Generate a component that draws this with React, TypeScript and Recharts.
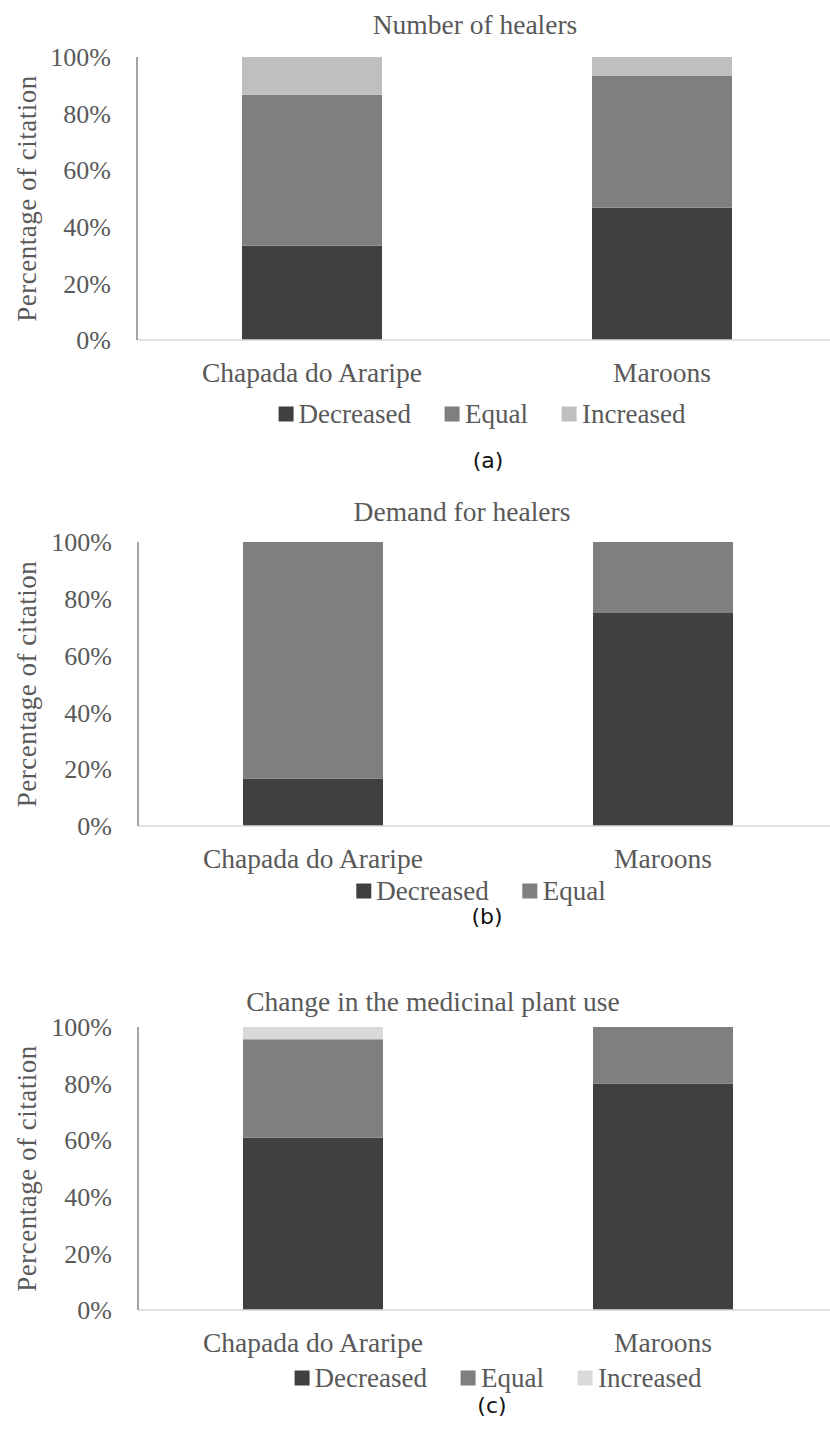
import { Bar, BarChart, XAxis, YAxis } from "recharts";

const categories = ["Chapada do Araripe", "Maroons"];
const percentTicks = [0, 20, 40, 60, 80, 100];

// (a) Number of healers
const healersDecreased = [33.3, 46.7];
const healersEqual = [53.4, 46.6];
const healersIncreased = [13.3, 6.7];

// (b) Demand for healers
const demandDecreased = [16.7, 75];
const demandEqual = [83.3, 25];

// (c) Change in the medicinal plant use
const plantDecreased = [60.9, 80];
const plantEqual = [34.8, 20];
const plantIncreased = [4.3, 0];

const SERIF = '"Liberation Serif", "Times New Roman", serif';
const TEXT = "#595959";
const X_AXIS_HEIGHT = 30;

type Series = { key: string; name: string; color: string; values: number[] };

type PanelProps = {
  top: number;
  axisX: number;
  plotHeight: number;
  title: string;
  titleX: number;
  titleY: number;
  series: Series[];
  legendX: number;
  legendY: number;
  tag: string;
  tagX: number;
  tagY: number;
};

function YLabel(props: any) {
  const vb = props.viewBox || { x: 0, y: 0, height: 0 };
  const cx = 27;
  const cy = vb.y + vb.height / 2;
  return (
    <text
      x={cx}
      y={cy}
      transform={`rotate(-90, ${cx}, ${cy})`}
      textAnchor="middle"
      dominantBaseline="central"
      fill={TEXT}
      fontFamily={SERIF}
      fontSize={27}
      letterSpacing={0.5}
    >
      Percentage of citation
    </text>
  );
}

// positions below are page coordinates; they are shifted by the panel top here
function Panel({
  top,
  axisX,
  plotHeight,
  title,
  titleX,
  titleY,
  series,
  legendX,
  legendY,
  tag,
  tagX,
  tagY,
}: PanelProps) {
  const data = categories.map((name, i) => {
    const row: Record<string, string | number> = { name };
    series.forEach((s) => {
      row[s.key] = s.values[i];
    });
    return row;
  });

  const chartWidth = 840;
  const chartHeight = 470;
  const marginTop = 57;

  return (
    <div style={{ position: "absolute", left: 0, top, width: 830, height: chartHeight }}>
      <div
        style={{
          position: "absolute",
          left: titleX,
          top: titleY - top,
          transform: "translate(-50%, -50%)",
          whiteSpace: "nowrap",
          fontFamily: SERIF,
          fontSize: 27.5,
          color: TEXT,
          lineHeight: 1,
        }}
      >
        {title}
      </div>

      <BarChart
        width={chartWidth}
        height={chartHeight}
        data={data}
        margin={{
          top: marginTop,
          right: chartWidth - axisX - 700,
          bottom: chartHeight - marginTop - plotHeight - X_AXIS_HEIGHT,
          left: 0,
        }}
        barCategoryGap="30%"
      >
        <XAxis
          dataKey="name"
          height={X_AXIS_HEIGHT}
          tickLine={false}
          tickSize={0}
          tickMargin={22}
          axisLine={{ stroke: "#d9d9d9", strokeWidth: 1.5 }}
          tick={{ fill: TEXT, fontFamily: SERIF, fontSize: 27.5 }}
          interval={0}
        />
        <YAxis
          width={axisX}
          domain={[0, 100]}
          ticks={percentTicks}
          tickFormatter={(v: number) => `${v}%`}
          tickLine={false}
          tickSize={0}
          tickMargin={26}
          axisLine={{ stroke: "#868686", strokeWidth: 1.5 }}
          tick={{ fill: TEXT, fontFamily: SERIF, fontSize: 26 }}
          label={<YLabel />}
        />
        {series.map((s) => (
          <Bar
            key={s.key}
            dataKey={s.key}
            name={s.name}
            stackId="a"
            fill={s.color}
            isAnimationActive={false}
          />
        ))}
      </BarChart>

      <div
        style={{
          position: "absolute",
          left: legendX,
          top: legendY - top,
          transform: "translate(-50%, -50%)",
          display: "flex",
          alignItems: "center",
          gap: 34,
          whiteSpace: "nowrap",
          fontFamily: SERIF,
          fontSize: 27,
          color: TEXT,
          lineHeight: 1,
        }}
      >
        {series.map((s) => (
          <div key={s.key} style={{ display: "flex", alignItems: "center", gap: 5 }}>
            <span style={{ display: "inline-block", width: 15, height: 15, background: s.color }} />
            <span>{s.name}</span>
          </div>
        ))}
      </div>

      <div
        style={{
          position: "absolute",
          left: tagX,
          top: tagY - top,
          transform: "translate(-50%, -50%)",
          fontFamily: '"DejaVu Sans", Verdana, sans-serif',
          fontSize: 22,
          color: "#111",
          lineHeight: 1,
        }}
      >
        {tag}
      </div>
    </div>
  );
}

export default function App() {
  return (
    <div
      style={{
        position: "absolute",
        left: 0,
        top: 0,
        width: 830,
        height: 1429,
        overflow: "hidden",
        background: "#fff",
      }}
    >
      <Panel
        top={0}
        axisX={137}
        plotHeight={283}
        title="Number of healers"
        titleX={475}
        titleY={25}
        series={[
          { key: "dec", name: "Decreased", color: "#404040", values: healersDecreased },
          { key: "eq", name: "Equal", color: "#7f7f7f", values: healersEqual },
          { key: "inc", name: "Increased", color: "#bfbfbf", values: healersIncreased },
        ]}
        legendX={482}
        legendY={414}
        tag="(a)"
        tagX={488}
        tagY={461}
      />
      <Panel
        top={485}
        axisX={138}
        plotHeight={284}
        title="Demand for healers"
        titleX={462}
        titleY={512}
        series={[
          { key: "dec", name: "Decreased", color: "#404040", values: demandDecreased },
          { key: "eq", name: "Equal", color: "#7f7f7f", values: demandEqual },
        ]}
        legendX={481}
        legendY={891}
        tag="(b)"
        tagX={487}
        tagY={917}
      />
      <Panel
        top={970}
        axisX={138}
        plotHeight={283}
        title="Change in the medicinal plant use"
        titleX={433}
        titleY={1002}
        series={[
          { key: "dec", name: "Decreased", color: "#404040", values: plantDecreased },
          { key: "eq", name: "Equal", color: "#7f7f7f", values: plantEqual },
          { key: "inc", name: "Increased", color: "#d9d9d9", values: plantIncreased },
        ]}
        legendX={498}
        legendY={1378}
        tag="(c)"
        tagX={492}
        tagY={1406}
      />
    </div>
  );
}
